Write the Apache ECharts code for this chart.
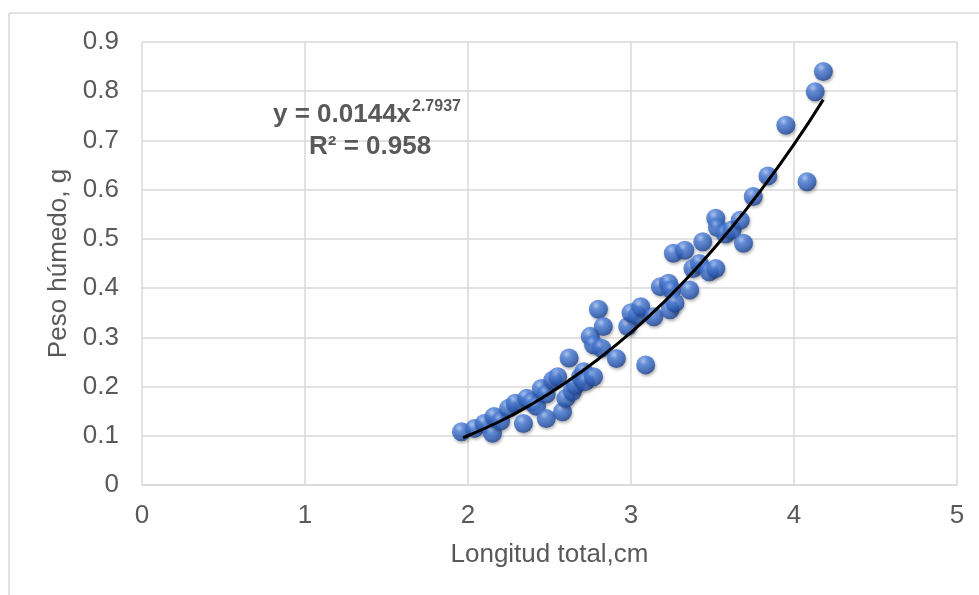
<!DOCTYPE html>
<html>
<head>
<meta charset="utf-8">
<script src="https://cdn.jsdelivr.net/npm/echarts@6/dist/echarts.min.js"></script>
<style>
    html, body { margin: 0; padding: 0; background: #fff; }
    #chart1 { width: 979px; height: 595px; }
</style>
</head>
<body>
<div id="chart1"></div>
<script>
// longitud total (cm) y peso húmedo (g)
var longitudCm = [1.96, 2.04, 2.10, 2.15, 2.16, 2.20, 2.25, 2.29, 2.34, 2.36, 2.39, 2.42, 2.45, 2.48, 2.48,
    2.52, 2.55, 2.58, 2.60, 2.62, 2.64, 2.66, 2.69, 2.71, 2.72, 2.75, 2.77, 2.77, 2.80, 2.82, 2.83, 2.91,
    2.98, 3.00, 3.04, 3.06, 3.09, 3.14, 3.18, 3.23, 3.25, 3.24, 3.27, 3.26, 3.33, 3.36, 3.38, 3.42, 3.44,
    3.48, 3.52, 3.52, 3.53, 3.58, 3.62, 3.67, 3.69, 3.75, 3.84, 3.95, 4.08, 4.13, 4.18];
var pesoG = [0.108, 0.115, 0.125, 0.105, 0.139, 0.130, 0.156, 0.166, 0.125, 0.176, 0.169, 0.160, 0.196, 0.135, 0.185,
    0.213, 0.220, 0.149, 0.176, 0.258, 0.190, 0.203, 0.220, 0.230, 0.210, 0.302, 0.220, 0.285, 0.357, 0.278, 0.322, 0.257,
    0.322, 0.350, 0.345, 0.362, 0.244, 0.342, 0.403, 0.410, 0.396, 0.356, 0.370, 0.471, 0.477, 0.396, 0.440, 0.450, 0.494,
    0.433, 0.440, 0.542, 0.523, 0.510, 0.518, 0.538, 0.491, 0.586, 0.628, 0.731, 0.616, 0.799, 0.840];
// línea de tendencia (potencial)
var trendX = [1.97, 2.2, 2.4, 2.6, 2.8, 3.0, 3.2, 3.4, 3.6, 3.8, 4.0, 4.18];
var trendY = [0.096, 0.130, 0.166, 0.208, 0.256, 0.310, 0.371, 0.440, 0.516, 0.600, 0.692, 0.783];
var xTicks = [0, 1, 2, 3, 4, 5];
var yTicks = [0, 0.1, 0.2, 0.3, 0.4, 0.5, 0.6, 0.7, 0.8, 0.9];

var FONT = '"Liberation Sans", Arial, sans-serif';
var GRAY = '#595959';
var GRID = '#d9d9d9';

function chart1() {
    var myChart = echarts.init(document.getElementById('chart1'));
    var points = longitudCm.map(function (x, i) { return [x, pesoG[i]]; });
    var trend = trendX.map(function (x, i) { return [x, trendY[i]]; });

    var option = {
        animation: false,
        backgroundColor: '#fff',
        grid: { left: 142, right: 22, top: 42, bottom: 110 },
        xAxis: {
            type: 'value',
            min: xTicks[0],
            max: xTicks[xTicks.length - 1],
            interval: 1,
            name: 'Longitud total,cm',
            nameLocation: 'middle',
            nameGap: 57,
            nameTextStyle: { color: GRAY, fontSize: 26, fontFamily: FONT },
            axisLine: { show: true, lineStyle: { color: GRID, width: 1.5 } },
            axisTick: { show: false },
            axisLabel: { color: GRAY, fontSize: 26, fontFamily: FONT, margin: 18 },
            splitLine: { show: true, lineStyle: { color: GRID, width: 1.5 } }
        },
        yAxis: {
            type: 'value',
            min: yTicks[0],
            max: yTicks[yTicks.length - 1],
            interval: 0.1,
            name: 'Peso húmedo, g',
            nameLocation: 'middle',
            nameGap: 68,
            nameRotate: 90,
            nameTextStyle: { color: GRAY, fontSize: 26, fontFamily: FONT },
            axisLine: { show: false },
            axisTick: { show: false },
            axisLabel: {
                color: GRAY, fontSize: 26, fontFamily: FONT, margin: 23,
                formatter: function (v) { return String(Math.round(v * 10) / 10); }
            },
            splitLine: { show: true, lineStyle: { color: GRID, width: 1.5 } }
        },
        series: [
            {
                name: 'Peso',
                type: 'scatter',
                data: points,
                symbolSize: 19,
                itemStyle: {
                    color: new echarts.graphic.RadialGradient(0.38, 0.3, 0.72, [
                        { offset: 0, color: '#a9c5f7' },
                        { offset: 0.3, color: '#4f82dc' },
                        { offset: 0.75, color: '#2c5cb8' },
                        { offset: 1, color: '#1c4088' }
                    ]),
                    shadowBlur: 3,
                    shadowOffsetX: 1,
                    shadowOffsetY: 2,
                    shadowColor: 'rgba(0,0,0,0.35)'
                },
                z: 2
            },
            {
                name: 'Tendencia',
                type: 'line',
                data: trend,
                smooth: true,
                symbol: 'none',
                lineStyle: { color: '#000', width: 3 },
                z: 3
            }
        ],
        graphic: [
            { type: 'line', shape: { x1: 9, y1: 13, x2: 979, y2: 13 }, style: { stroke: GRID, lineWidth: 1.5 } },
            { type: 'line', shape: { x1: 9, y1: 13, x2: 9, y2: 595 }, style: { stroke: GRID, lineWidth: 1.5 } },
            {
                type: 'text', left: 273, top: 102, z: 100,
                style: { text: 'y = 0.0144x', fill: GRAY, font: 'bold 26px ' + FONT }
            },
            {
                type: 'text', left: 412, top: 99, z: 100,
                style: { text: '2.7937', fill: GRAY, font: 'bold 16px ' + FONT }
            },
            {
                type: 'text', left: 309, top: 134, z: 100,
                style: { text: 'R² = 0.958', fill: GRAY, font: 'bold 26px ' + FONT }
            }
        ]
    };
    myChart.setOption(option);
}

chart1();
</script>
</body>
</html>
